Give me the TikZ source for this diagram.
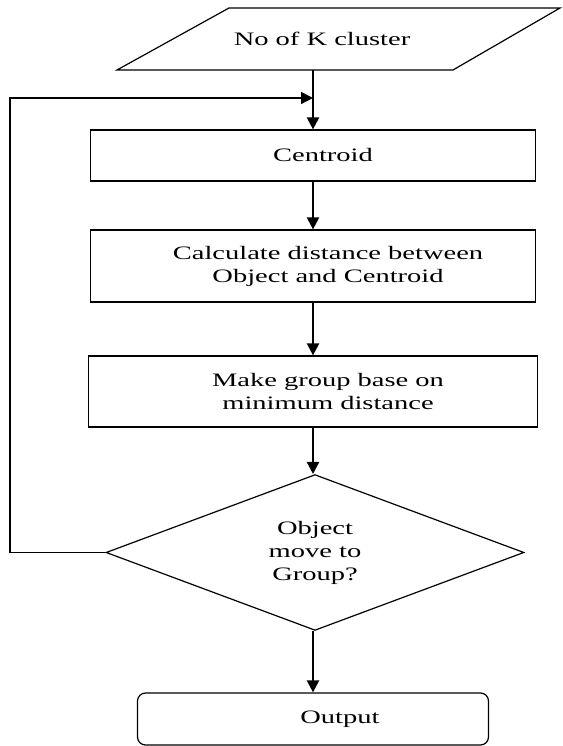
\documentclass[tikz,border=0pt]{standalone}
\usepackage{fontspec}
\setmainfont{Liberation Serif}[FakeStretch=1.5]
\usetikzlibrary{shapes.geometric,arrows.meta}

\begin{document}
\begin{tikzpicture}[x=1pt,y=1pt]
\tikzset{boite/.style={draw, line width=1.2pt, rectangle, align=center, minimum width=445pt, inner sep=0pt, font=\fontsize{19}{23}\selectfont},
  losange/.style={draw, line width=1.2pt, diamond, align=center, minimum width=418pt, minimum height=151pt, inner sep=0pt, font=\fontsize{19}{23}\selectfont},
  fleche/.style={line width=2.2pt, -{Triangle[length=12pt,width=12pt]}},
  retour/.style={line width=1.4pt, -{Triangle[length=12pt,width=12pt]}}}
\newcommand{\dec}[1]{\hspace*{#1}}
\useasboundingbox (0,0) rectangle (562,746);
% entree
\draw[line width=1.2pt] (117,676) -- (229,738) -- (560,738) -- (453,676) -- cycle;
\node[font=\fontsize{19}{23}\selectfont] (E1) at (322,707) {No of K cluster};
\coordinate (B1) at (313,676);
\coordinate (J) at (313,648);
\coordinate (C) at (10,648);
% etapes
\node[boite, minimum height=51pt] (E2) at (313,590.5) {\dec{20pt}Centroid};
\node[boite, minimum height=72pt] (E3) at (313,480) {\dec{30pt}Calculate distance between\\\dec{30pt}Object and Centroid};
\node[boite, minimum height=71pt, minimum width=449pt] (E4) at (313,354.5) {\dec{30pt}Make group base on\\\dec{30pt}minimum distance};
\node[losange] (E5) at (315,193.5) {Object\\move to\\Group?};
\node[boite, rounded corners=8pt, minimum width=351pt, minimum height=52pt] (E6) at (313,27) {\dec{54pt}Output};
\draw[fleche] (B1) -- (E2.north);
\draw[fleche] (E2) -- (E3);
\draw[fleche] (E3) -- (E4);
\draw[fleche] (E4.south) -- (E5.north -| E4.south);
\draw[fleche] (E5.south -| E6.north) -- (E6.north);
\draw[retour] (E5.west) -| (C) -- (J);
\end{tikzpicture}
\end{document}
